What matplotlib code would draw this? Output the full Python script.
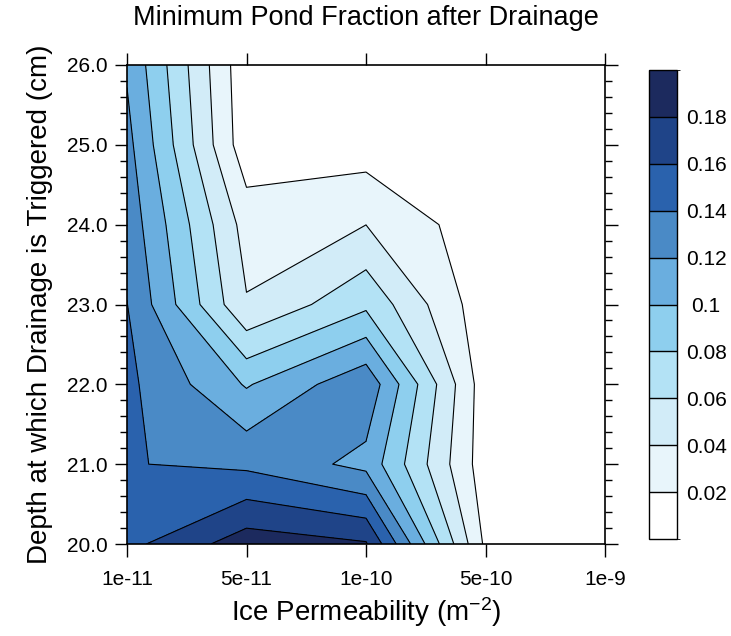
import numpy as np
import matplotlib
matplotlib.use('Agg')
import matplotlib.pyplot as plt
from matplotlib import colors, ticker
from matplotlib.cm import ScalarMappable

plt.rcParams['font.family'] = ['Liberation Sans', 'DejaVu Sans']
plt.rcParams['mathtext.fontset'] = 'custom'
plt.rcParams['mathtext.rm'] = 'Liberation Sans'
plt.rcParams['mathtext.default'] = 'regular'

permeability = ['1e-11', '5e-11', '1e-10', '5e-10', '1e-9']
depth = [20.0, 21.0, 22.0, 23.0, 24.0, 25.0, 26.0]

# minimum pond fraction: rows = trigger depth, columns = permeability
pond_frac = np.array([
    [0.154, 0.191, 0.182, 0.016, 0.0],
    [0.141, 0.1355, 0.114, 0.0084, 0.0],
    [0.1447, 0.0981, 0.135, 0.0082, 0.0],
    [0.1404, 0.0415, 0.0755, 0.0066, 0.0],
    [0.133, 0.0317, 0.0399, 0.0073, 0.0],
    [0.1263, 0.0067, 0.0097, 0.004, 0.0],
    [0.1175, 0.005, 0.0, 0.0, 0.0],
])

levels = [0.02, 0.04, 0.06, 0.08, 0.10, 0.12, 0.14, 0.16, 0.18]
fill_colors = ['#ffffff', '#e8f5fb', '#d2ecf8', '#b3e2f5', '#8ecfee',
               '#6aaedf', '#4a8ac6', '#2a62ad', '#1f4488', '#1c2a5e']

fig = plt.figure(figsize=(7.31, 6.36), dpi=100)
ax = fig.add_axes([127/731, 92/636, 478/731, 479/636])
cax = fig.add_axes([649/731, 97/636, 28/731, 469/636])

xi = np.arange(len(permeability))
fill_levels = [-1.0] + levels + [1.0]
ax.contourf(xi, depth, pond_frac, levels=fill_levels, colors=fill_colors,
            algorithm='mpl2014')
ax.contour(xi, depth, pond_frac, levels=levels, colors='black',
           linewidths=0.8, linestyles='solid', algorithm='mpl2014')

ax.set_xlim(0, len(permeability) - 1)
ax.set_ylim(20, 26)
ax.set_xticks(xi)
ax.set_xticklabels(permeability)
ax.yaxis.set_major_locator(ticker.MultipleLocator(1.0))
ax.yaxis.set_minor_locator(ticker.MultipleLocator(0.2))
ax.yaxis.set_major_formatter(ticker.FormatStrFormatter('%.1f'))
ax.tick_params(which='both', direction='out', top=True, right=True,
               labelsize=15, width=1.0)
ax.tick_params(which='major', length=9, pad=5)
ax.tick_params(which='minor', length=5)
ax.tick_params(axis='x', which='major', pad=10)
for sp in ax.spines.values():
    sp.set_linewidth(1.2)

ax.set_xlabel('Ice Permeability (m$^{-2}$)', fontsize=20, labelpad=4)
ax.set_ylabel('Depth at which Drainage is Triggered (cm)', fontsize=20,
              labelpad=10)
fig.text(366/731, 1 - 18/636, 'Minimum Pond Fraction after Drainage',
         fontsize=19.5, ha='center', va='center')

# colour key with labels on the interior boundaries
bounds = np.linspace(0, 0.2, 11)
sm = ScalarMappable(norm=colors.BoundaryNorm(bounds, len(fill_colors)),
                    cmap=colors.ListedColormap(fill_colors))
cb = fig.colorbar(sm, cax=cax, ticks=levels, drawedges=True)
cb.ax.set_yticklabels(['%g' % v for v in levels])
cb.ax.tick_params(length=0, labelsize=15, pad=21)
for lab in cb.ax.get_yticklabels():
    lab.set_horizontalalignment('center')
cb.outline.set_linewidth(1.0)
cb.dividers.set_linewidth(1.0)

fig.savefig('out.png', dpi=100)
